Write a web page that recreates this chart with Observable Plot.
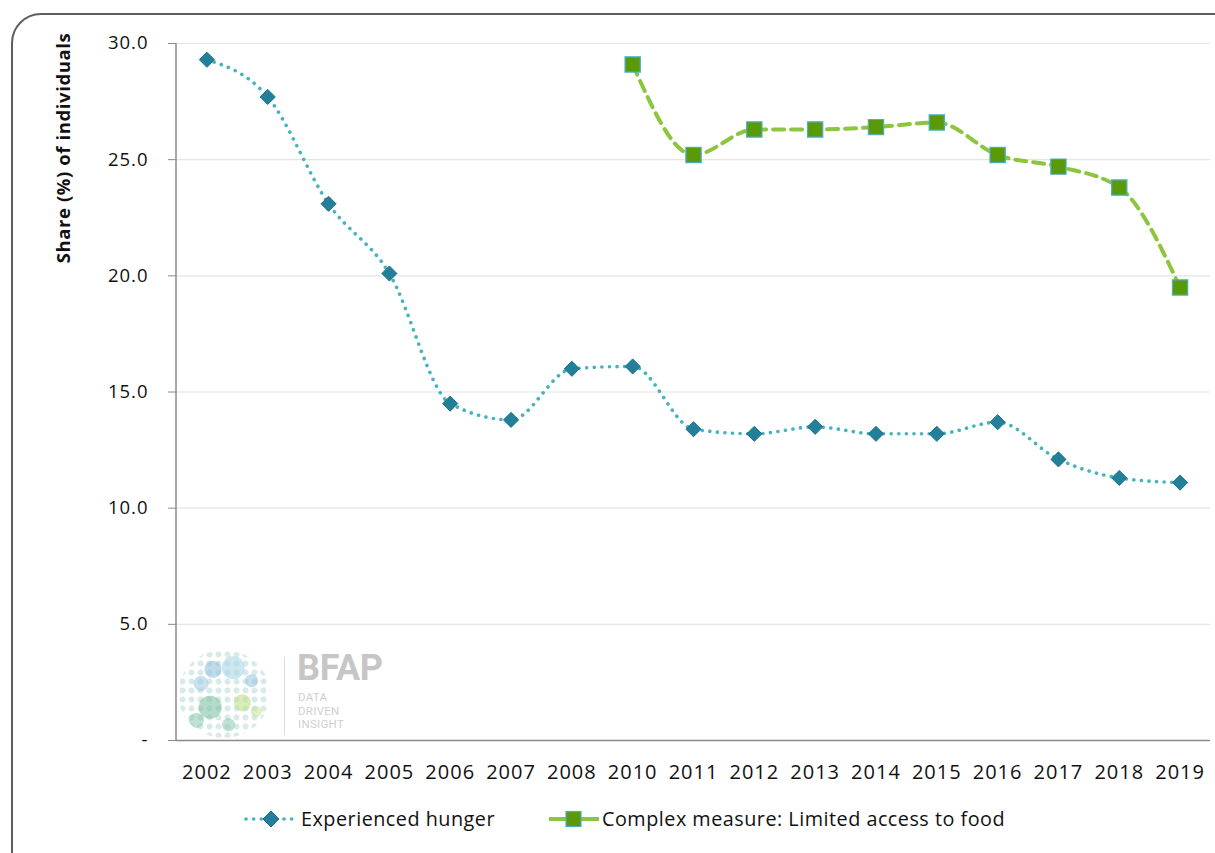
<!DOCTYPE html>
<html>
<head>
<meta charset="utf-8">
<script src="https://cdn.jsdelivr.net/npm/d3@7"></script>
<script src="https://cdn.jsdelivr.net/npm/@observablehq/plot@0.6"></script>
<style>
  html, body { margin: 0; padding: 0; background: #fff; width: 1215px; height: 853px; overflow: hidden; font-family: "Open Sans", sans-serif; }
  #frame { position: absolute; left: 11px; top: 13px; width: 1400px; height: 1000px; border: 2px solid #5e5e5e; border-radius: 30px; }
  #chart { position: absolute; left: 0; top: 0; }
  #ylabel { position: absolute; left: 62px; top: 148px; transform: translate(-50%, -50%) rotate(-90deg); font-size: 18.5px; letter-spacing: 0.6px; font-weight: 700; color: #111; white-space: nowrap; }
  #legend { position: absolute; top: 805px; left: 0; width: 1215px; font-size: 19.8px; letter-spacing: 0.5px; color: #111; }
  .item { position: absolute; display: flex; align-items: center; white-space: nowrap; }
  .item svg { margin-right: 3px; }
  #logo { position: absolute; left: 178px; top: 650px; width: 220px; height: 90px; }
  #logo .ball { position: absolute; left: 0; top: 0; width: 92px; height: 88px; border-radius: 50%;
    background:
      radial-gradient(circle at 38% 22%, rgba(140,190,220,0.55) 0 8px, transparent 9px),
      radial-gradient(circle at 60% 20%, rgba(170,215,230,0.6) 0 11px, transparent 12px),
      radial-gradient(circle at 25% 38%, rgba(150,195,225,0.5) 0 7px, transparent 8px),
      radial-gradient(circle at 80% 35%, rgba(140,190,220,0.5) 0 6px, transparent 7px),
      radial-gradient(circle at 35% 65%, rgba(120,190,160,0.55) 0 11px, transparent 12px),
      radial-gradient(circle at 70% 60%, rgba(190,225,140,0.6) 0 8px, transparent 9px),
      radial-gradient(circle at 20% 80%, rgba(130,195,170,0.5) 0 7px, transparent 8px),
      radial-gradient(circle at 55% 85%, rgba(130,195,170,0.5) 0 6px, transparent 7px),
      radial-gradient(circle at 85% 70%, rgba(190,225,140,0.5) 0 5px, transparent 6px),
      radial-gradient(circle, rgba(170,210,205,0.45) 0 2.5px, transparent 3.5px) 0 0 / 9px 9px;
  }
  #logo .divider { position: absolute; left: 106px; top: 7px; width: 1px; height: 78px; background: #d8d8d8; }
  #logo .bfap { position: absolute; left: 119px; top: -3px; font-family: "Roboto", sans-serif; font-weight: 700; font-size: 36px; line-height: normal; color: #c6c6c6; letter-spacing: -0.3px; }
  #logo .sub { position: absolute; left: 120px; top: 41px; font-family: "Roboto", sans-serif; font-size: 11.5px; line-height: 13.6px; color: #cfcfcf; letter-spacing: 0.3px; }
</style>
</head>
<body>
<div id="frame"></div>
<div id="logo"><div class="ball"></div><div class="divider"></div><div class="bfap">BFAP</div><div class="sub">DATA<br>DRIVEN<br>INSIGHT</div></div>
<div id="chart"></div>
<div id="ylabel">Share (%) of individuals</div>
<div id="legend"></div>
<script>
const years = ["2002","2003","2004","2005","2006","2007","2008","2010","2011","2012","2013","2014","2015","2016","2017","2018","2019"];
const hungerValues = [29.3, 27.7, 23.1, 20.1, 14.5, 13.8, 16.0, 16.1, 13.4, 13.2, 13.5, 13.2, 13.2, 13.7, 12.1, 11.3, 11.1];
const complexYears = ["2010","2011","2012","2013","2014","2015","2016","2017","2018","2019"];
const complexValues = [29.1, 25.2, 26.3, 26.3, 26.4, 26.6, 25.2, 24.7, 23.8, 19.5];
const yTicks = [0, 5, 10, 15, 20, 25, 30];
const seriesNames = ["Experienced hunger", "Complex measure: Limited access to food"];

const hunger = years.map((y, i) => ({year: y, value: hungerValues[i]}));
const complex = complexYears.map((y, i) => ({year: y, value: complexValues[i]}));

const W = 1215, H = 800, mL = 176, mT = 43, mR = 5, mB = 60;

const plot = Plot.plot({
  width: W, height: H,
  marginLeft: mL, marginTop: mT, marginRight: mR, marginBottom: mB,
  style: {fontFamily: "'Open Sans', sans-serif", fontSize: "18.5px", color: "#111", background: "transparent", letterSpacing: "1px"},
  x: {type: "point", domain: years, padding: 0.5, round: false},
  y: {domain: [0, 30]},
  marks: [
    Plot.gridY(yTicks.filter(d => d > 0), {stroke: "#e4e4e4", strokeOpacity: 1, strokeWidth: 1.2}),
    Plot.ruleY([0], {stroke: "#8a8a8a", strokeWidth: 1.5}),
    Plot.axisY(yTicks, {tickFormat: d => d === 0 ? "-" : d.toFixed(1), tickSize: 8, tickPadding: 20, stroke: "#8a8a8a", label: null, fill: "#111"}),
    Plot.axisX({tickSize: 0, tickPadding: 24, label: null, fill: "#111", fontSize: 20}),
    Plot.line(hunger, {x: "year", y: "value", curve: "monotone-x", stroke: "#45b4bd", strokeWidth: 3.6, strokeDasharray: "0.1 7.5", strokeLinecap: "round"}),
    Plot.line(complex, {x: "year", y: "value", curve: "monotone-x", stroke: "#8cc63e", strokeWidth: 4, strokeDasharray: "11 7"}),
    Plot.dot(hunger, {x: "year", y: "value", symbol: "diamond2", r: 6.8, fill: "#22809a", stroke: "#1d6f86", strokeWidth: 1}),
    Plot.dot(complex, {x: "year", y: "value", symbol: "square", r: 8.6, fill: "#5a9a08", stroke: "#4aaec8", strokeWidth: 1.2})
  ]
});

// left axis line
d3.select(plot).append("line")
  .attr("x1", mL).attr("x2", mL).attr("y1", mT).attr("y2", H - mB)
  .attr("stroke", "#8a8a8a").attr("stroke-width", 1.5);

document.getElementById("chart").appendChild(plot);

// legend
const legend = document.getElementById("legend");
const item1 = document.createElement("div");
item1.className = "item"; item1.style.left = "244px";
item1.innerHTML = `<svg width="54" height="20"><line x1="2" x2="52" y1="10" y2="10" stroke="#45b4bd" stroke-width="3.6" stroke-linecap="round" stroke-dasharray="0.1 7.5"/><path d="M27 2 L35 10 L27 18 L19 10 Z" fill="#22809a" stroke="#1d6f86"/></svg><span>${seriesNames[0]}</span>`;
const item2 = document.createElement("div");
item2.className = "item"; item2.style.left = "549px";
item2.innerHTML = `<svg width="50" height="20"><line x1="0" x2="50" y1="10" y2="10" stroke="#8cc63e" stroke-width="4"/><rect x="17" y="2.5" width="15" height="15" fill="#5a9a08" stroke="#4aaec8" stroke-width="1.2"/></svg><span>${seriesNames[1]}</span>`;
legend.appendChild(item1);
legend.appendChild(item2);
</script>
</body>
</html>
